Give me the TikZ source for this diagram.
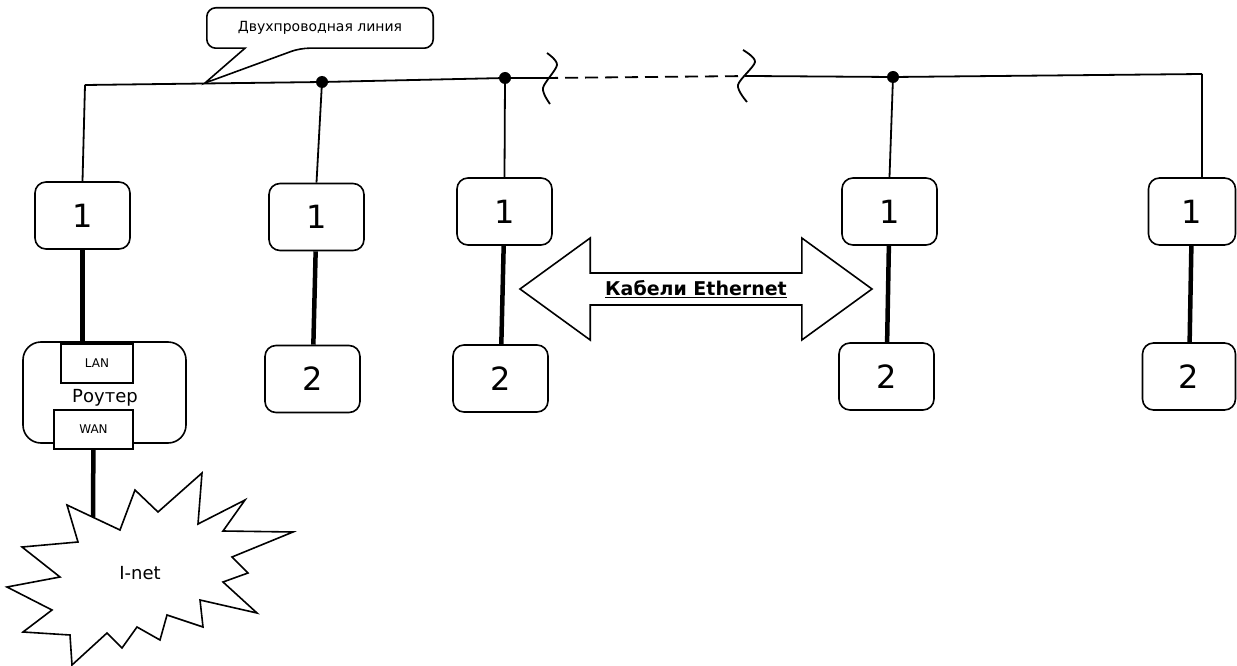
\documentclass[tikz,border=0pt]{standalone}
\usepackage{fontspec}
\setmainfont{DejaVu Sans}
\usetikzlibrary{positioning,calc,shapes.arrows}

\tikzset{
  unit/.style={draw,rounded corners=11pt,line width=1.6pt,minimum width=95pt,minimum height=67pt,font=\fontsize{32}{36}\selectfont},
  port/.style={draw,fill=white,line width=1.3pt,minimum height=39pt,font=\fontsize{12}{14}\selectfont},
  wire/.style={line width=1.8pt},
  cable/.style={line width=4.5pt},
  joint/.style={circle,fill,inner sep=0pt,minimum size=12pt},
}

\begin{document}
\begin{tikzpicture}[x=1pt,y=-1pt]
    \useasboundingbox (0,0) rectangle (1237,666);

    \node[unit] (a1) at (82.5,215.5) {1};
    \node[unit] (b1) at (316.5,217) {1};
    \node[unit] (c1) at (504.5,211.5) {1};
    \node[unit] (d1) at (889.5,211.5) {1};
    \node[unit,minimum width=87pt] (e1) at (1192,211.5) {1};
    \node[unit] (b2) at (312.5,379) {2};
    \node[unit] (c2) at (500.5,378.5) {2};
    \node[unit] (d2) at (886.5,376.5) {2};
    \node[unit,minimum width=93pt] (e2) at (1189,376.5) {2};

    \node[draw,rounded corners=18pt,line width=1.6pt,minimum width=163pt,minimum height=101pt] (router) at (104.5,392.5) {};
    \node[font=\fontsize{18}{20}\selectfont] (routername) at (105,398) {Роутер};
    \node[port,minimum width=72pt] (lan) at (97,363.5) {LAN};
    \node[port,minimum width=79pt] (wan) at (93.5,429.5) {WAN};

    \node[minimum width=226pt,minimum height=40pt,font=\fontsize{14}{16}\selectfont] (note) at (320,28) {Двухпроводная линия};
    \coordinate (notetip) at (205,83);
    \draw[line width=1.6pt] ($(note.south)+(-75,0)$) [rounded corners=9pt] -| (note.north west) -| (note.south east) -- ($(note.south)+(-20,0)$) [sharp corners] -- (notetip) -- cycle;

    \coordinate (bus0) at (85,85);
    \node[joint] (j1) at (322,82) {};
    \node[joint] (j2) at (505,78) {};
    \coordinate (brk1) at (545,78);
    \coordinate (brk2) at (750,76);
    \node[joint] (j3) at (893,77) {};
    \coordinate (bus9) at (1202,74);
    \draw[wire] (bus0) -- (j1.center) -- (j2.center) -- (brk1);
    \draw[wire,dash pattern=on 13pt off 7pt] (brk1) -- (brk2);
    \draw[wire] (brk2) -- (j3.center) -- (bus9);
    \draw[wire] plot[smooth] coordinates {(547,53) (557,65) (543,88) (550,104)};
    \draw[wire] plot[smooth] coordinates {(743,50) (755,62) (738,85) (747,102)};

    \draw[wire] (bus0) -- (a1.north);
    \draw[wire] (j1) -- (b1.north);
    \draw[wire] (j2) -- (c1.north);
    \draw[wire] (j3) -- (d1.north);
    \draw[wire] (bus9) -- (bus9 |- e1.north);

    \draw[cable] (a1.south) -- (a1.south |- lan.north);
    \draw[cable] (b1) -- (b2);
    \draw[cable] (c1) -- (c2);
    \draw[cable] (d1) -- (d2);
    \draw[cable] (e1) -- (e2);

    \node[double arrow,draw,line width=1.6pt,minimum height=352pt,minimum width=102pt,double arrow head extend=25pt,double arrow tip angle=72,inner sep=2pt,font=\fontsize{19}{21}\selectfont\bfseries] (cables) at (696,289) {\underline{Кабели Ethernet}};

    \draw[line width=1.6pt] (135,490) -- (120,530) -- (67,505) -- (78,542) -- (22,547) -- (60,577) -- (7,587) -- (52,610) -- (23,632) -- (70,635) -- (72,665) -- (107,633) -- (122,648) -- (137,627) -- (160,640) -- (167,615) -- (203,627) -- (200,600) -- (257,613) -- (223,582) -- (248,573) -- (232,557) -- (293,532) -- (223,531) -- (245,500) -- (198,524) -- (202,473) -- (158,512) -- cycle;
    \coordinate (burst) at (93,517);
    \node[font=\fontsize{18}{20}\selectfont] (inet) at (140,573) {I-net};
    \draw[cable] (wan) -- (burst);
\end{tikzpicture}
\end{document}
